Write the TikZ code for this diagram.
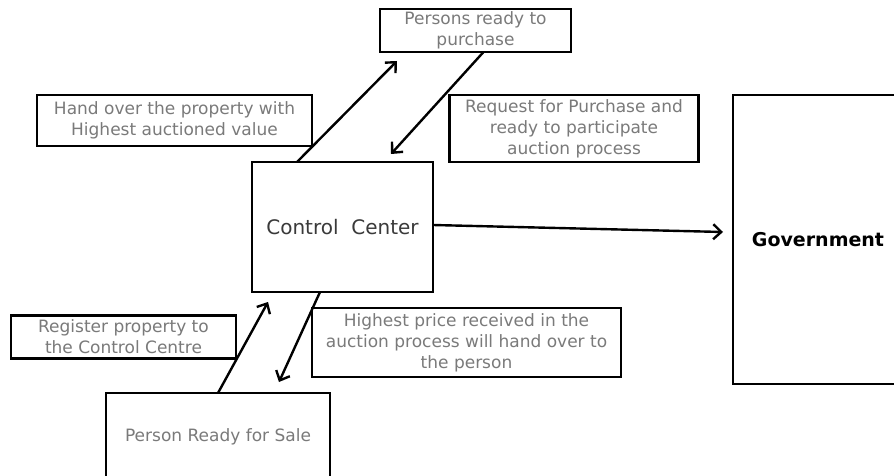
\documentclass[tikz,border=0pt]{standalone}
\usepackage{fontspec}
\setmainfont{DejaVu Sans}
\usetikzlibrary{arrows.meta}
\definecolor{lbl}{HTML}{7A7A7A}
\definecolor{dark}{HTML}{3A3A3A}
\begin{document}
\begin{tikzpicture}[x=1pt,y=-1pt,
  box/.style={draw=black,line width=2.5pt,inner sep=0pt,outer sep=0pt,align=center,text=lbl,
    font=\fontsize{17}{21}\selectfont},
  arr/.style={line width=2.4pt,-{Straight Barb[length=8pt,width=15pt,line width=2.4pt]}}]
\useasboundingbox (0,0) rectangle (894,476);
\clip (0,0) rectangle (894,476);
\fill[white] (0,0) rectangle (894,476);
% boxes
\node[box,minimum width=191pt,minimum height=43pt] (pr) at (475.5,30.5) {Persons ready to\\purchase};
\node[box,minimum width=275pt,minimum height=51pt] (ho) at (174.5,120.5) {Hand over the property with\\Highest auctioned value};
\node[box,minimum width=249pt,minimum height=67pt] (rq) at (574,128.5) {Request for Purchase and\\ready to participate\\auction process};
\node[box,minimum width=181pt,minimum height=130pt,text=dark,font=\fontsize{20}{24}\selectfont] (cc) at (342.5,227) {Control~ Center};
\node[box,minimum width=170pt,minimum height=289pt,text=black,font=\fontsize{19}{23}\selectfont\bfseries] (gov) at (818,239.5) {Government};
\node[box,minimum width=225pt,minimum height=43pt] (rg) at (123.5,337) {Register property to\\the Control Centre};
\node[box,minimum width=309pt,minimum height=69pt] (hp) at (466.5,342.5) {Highest price received in the\\auction process will hand over to\\the person};
\node[box,minimum width=224pt,minimum height=88pt] (ps) at (218,437) {Person Ready for Sale};
% free ends of connectors
\coordinate (t1) at (397,61);
\coordinate (t2) at (391,154);
\coordinate (t3) at (723,232);
\coordinate (t4) at (268,302);
\coordinate (t5) at (279,382);
% connectors
\draw[arr] ([xshift=45pt]cc.north west) -- (t1);
\draw[arr] ([xshift=8pt]pr.south) -- (t2);
\draw[arr] ([yshift=2pt]cc.east) -- (t3);
\draw[arr] (ps.north) -- (t4);
\draw[arr] ([xshift=68pt]cc.south west) -- (t5);
\end{tikzpicture}
\end{document}
